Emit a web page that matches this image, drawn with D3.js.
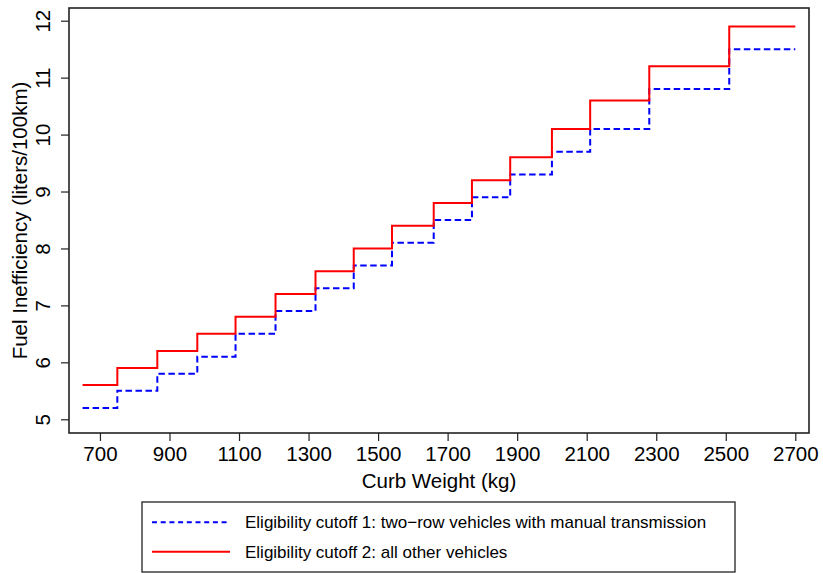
<!DOCTYPE html>
<html>
<head>
<meta charset="utf-8">
<script src="https://cdn.jsdelivr.net/npm/d3@7"></script>
<style>
  html, body { margin: 0; padding: 0; background: #fff; }
  svg { display: block; font-family: "Liberation Sans", Arial, Helvetica, sans-serif; }
</style>
</head>
<body>
<svg id="chart" width="823" height="573"></svg>
<script>
// Curb-weight class boundaries (kg); each value applies from its boundary to the next
const weightBreaks = [650, 750, 865, 980, 1090, 1205, 1320, 1430, 1540, 1660, 1770, 1880, 2000, 2110, 2280, 2510, 2700];
// Cutoff 1: two-row vehicles with manual transmission (liters/100km)
const cutoff1 = [5.2, 5.5, 5.8, 6.1, 6.5, 6.9, 7.3, 7.7, 8.1, 8.5, 8.9, 9.3, 9.7, 10.1, 10.8, 11.5];
// Cutoff 2: all other vehicles (liters/100km)
const cutoff2 = [5.6, 5.9, 6.2, 6.5, 6.8, 7.2, 7.6, 8.0, 8.4, 8.8, 9.2, 9.6, 10.1, 10.6, 11.2, 11.9];
const xTicks = [700, 900, 1100, 1300, 1500, 1700, 1900, 2100, 2300, 2500, 2700];
const yTicks = [5, 6, 7, 8, 9, 10, 11, 12];
const seriesNames = [
  "Eligibility cutoff 1: two\u2212row vehicles with manual transmission",
  "Eligibility cutoff 2: all other vehicles"
];

const svg = d3.select("#chart");
const plot = { left: 69, right: 809, top: 8, bottom: 433 };

const x = d3.scaleLinear().domain([611, 2739.4]).range([plot.left, plot.right]);
const y = d3.scaleLinear().domain([4.759, 12.223]).range([plot.bottom, plot.top]);

// Step series: each value holds until the next boundary; repeat the last value at the end
function stepPoints(vals) {
  const pts = vals.map((v, i) => [weightBreaks[i], v]);
  pts.push([weightBreaks[weightBreaks.length - 1], vals[vals.length - 1]]);
  return pts;
}
const line = d3.line()
  .x(d => x(d[0]))
  .y(d => y(d[1]))
  .curve(d3.curveStepAfter);

// Axes
const axisColor = "#222";
const gx = svg.append("g")
  .attr("transform", `translate(0,${plot.bottom})`)
  .call(d3.axisBottom(x).tickValues(xTicks).tickSize(8).tickFormat(d3.format("d")));
gx.select(".domain").remove();
gx.selectAll(".tick line").attr("stroke", axisColor).attr("stroke-width", 1.2);
gx.selectAll(".tick text")
  .attr("y", 28).attr("dy", 0)
  .attr("fill", "#000")
  .style("font-size", "20.5px")
  .style("font-family", "'Liberation Sans', Arial, sans-serif");

const gy = svg.append("g")
  .attr("transform", `translate(${plot.left},0)`)
  .call(d3.axisLeft(y).tickValues(yTicks).tickSize(8).tickFormat(d3.format("d")));
gy.select(".domain").remove();
gy.selectAll(".tick line").attr("stroke", axisColor).attr("stroke-width", 1.2);
gy.selectAll(".tick text")
  .attr("transform", "rotate(-90)")
  .attr("x", 0).attr("y", -19).attr("dy", 0)
  .attr("text-anchor", "middle")
  .attr("fill", "#000")
  .style("font-size", "20.5px")
  .style("font-family", "'Liberation Sans', Arial, sans-serif");

// Plot frame
svg.append("rect")
  .attr("x", plot.left).attr("y", plot.top)
  .attr("width", plot.right - plot.left).attr("height", plot.bottom - plot.top)
  .attr("fill", "none").attr("stroke", axisColor).attr("stroke-width", 1.6);

// Series lines
svg.append("path")
  .datum(stepPoints(cutoff1))
  .attr("d", line)
  .attr("fill", "none")
  .attr("stroke", "#0000ff")
  .attr("stroke-width", 2)
  .attr("stroke-dasharray", "6.5,3.5");

svg.append("path")
  .datum(stepPoints(cutoff2))
  .attr("d", line)
  .attr("fill", "none")
  .attr("stroke", "#ff0000")
  .attr("stroke-width", 2);

// Axis titles
svg.append("text")
  .attr("x", (plot.left + plot.right) / 2).attr("y", 488)
  .attr("text-anchor", "middle")
  .style("font-size", "20.5px")
  .text("Curb Weight (kg)");

svg.append("text")
  .attr("transform", `translate(27,${(plot.top + plot.bottom) / 2}) rotate(-90)`)
  .attr("text-anchor", "middle")
  .style("font-size", "20.5px")
  .text("Fuel Inefficiency (liters/100km)");

// Legend
const legend = svg.append("g");
legend.append("rect")
  .attr("x", 142).attr("y", 502).attr("width", 593).attr("height", 70)
  .attr("fill", "#fff").attr("stroke", axisColor).attr("stroke-width", 1.3);
const legendItems = [
  { name: seriesNames[0], color: "#0000ff", dash: "5,3.7", cy: 522.3 },
  { name: seriesNames[1], color: "#ff0000", dash: null, cy: 551.7 }
];
legendItems.forEach(it => {
  legend.append("line")
    .attr("x1", 152).attr("x2", 230).attr("y1", it.cy).attr("y2", it.cy)
    .attr("stroke", it.color).attr("stroke-width", 2)
    .attr("stroke-dasharray", it.dash);
  legend.append("text")
    .attr("x", 245).attr("y", it.cy + 6)
    .style("font-size", "17px")
    .text(it.name);
});
</script>
</body>
</html>
